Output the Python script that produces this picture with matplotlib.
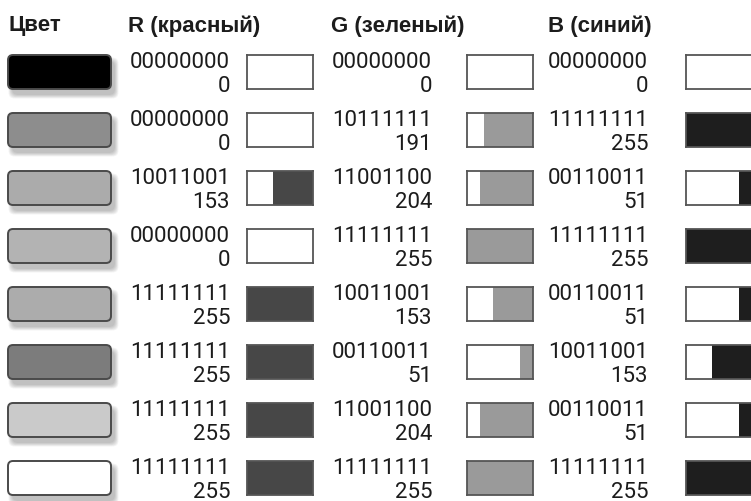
import matplotlib
matplotlib.use("Agg")
import matplotlib.pyplot as plt
from matplotlib.patches import FancyBboxPatch

# ---- data ----
headers = ["Цвет", "R (красный)", "G (зеленый)", "B (синий)"]
r_vals = [0, 0, 153, 0, 255, 255, 255, 255]
g_vals = [0, 191, 204, 255, 153, 51, 204, 255]
b_vals = [0, 255, 51, 255, 51, 153, 51, 255]

# ---- layout / style ----
W, H = 751, 502
fig = plt.figure(figsize=(W / 100, H / 100), dpi=100)
fig.patch.set_facecolor("white")
ax = fig.add_axes([0, 0, 1, 1])
ax.set_xlim(0, W)
ax.set_ylim(H, 0)
ax.axis("off")

HFONT = "Liberation Sans"
NFONT = "Roboto"
TXT = "#1c1c1c"
row_top0, pitch = 56, 58
cell_h = 34
sw_x, sw_w = 8, 103
text_right = [230, 432, 648]
bar_left = [247, 467, 686]
bar_w = 66
bar_colors = ["#474747", "#9a9a9a", "#1e1e1e"]
header_x = [8, 128, 331, 548]

for hx, h in zip(header_x, headers):
    ax.text(hx, 26, h, ha="left", va="center", fontsize=16, fontweight="bold",
            family=HFONT, color=TXT)

series = [r_vals, g_vals, b_vals]
for i in range(len(r_vals)):
    top = row_top0 + i * pitch
    # swatch colour as printed grey (luminance)
    lum = (0.299 * r_vals[i] + 0.587 * g_vals[i] + 0.114 * b_vals[i]) / 255
    # soft shadow
    for k in range(6):
        grow = k * 1.4
        sh = FancyBboxPatch((sw_x + 4 - grow / 2, top + 6 - grow / 2),
                            sw_w + grow, cell_h + grow,
                            boxstyle="round,pad=0,rounding_size=6",
                            facecolor="black", edgecolor="none", alpha=0.045)
        ax.add_patch(sh)
    sw = FancyBboxPatch((sw_x, top), sw_w, cell_h,
                        boxstyle="round,pad=0,rounding_size=5",
                        facecolor=(lum, lum, lum), edgecolor="#4a4a4a", linewidth=1.4)
    ax.add_patch(sw)

    for c, vals in enumerate(series):
        v = vals[i]
        ax.text(text_right[c], top + 7, format(v, "08b"), ha="right", va="center",
                fontsize=16, family=NFONT, color=TXT)
        ax.text(text_right[c], top + 31, str(v), ha="right", va="center",
                fontsize=16, family=NFONT, color=TXT)
        bx = fig.add_axes([bar_left[c] / W, 1 - (top + cell_h) / H, bar_w / W, cell_h / H])
        bx.set_xlim(255, 0)
        bx.set_ylim(-0.5, 0.5)
        bx.barh(0, v, left=0, height=1.0, color=bar_colors[c], edgecolor="none")
        bx.set_facecolor("white")
        bx.set_xticks([])
        bx.set_yticks([])
        for s in bx.spines.values():
            s.set_color("#555555")
            s.set_linewidth(1.3)

fig.savefig("out.png", dpi=100, facecolor="white")
